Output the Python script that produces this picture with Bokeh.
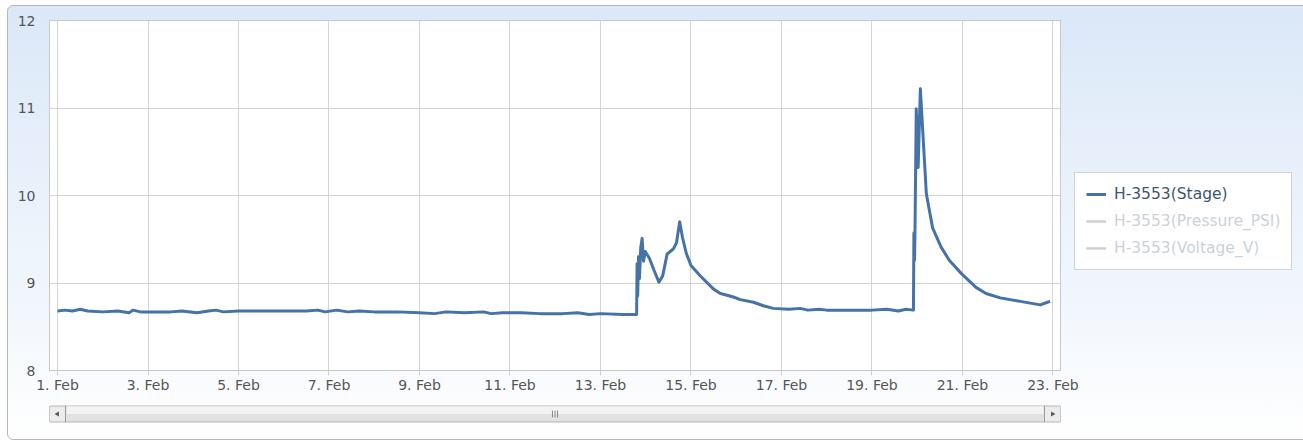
import pandas as pd
from bokeh.plotting import figure
from bokeh.models import (ColumnDataSource, Range1d, FixedTicker, Legend, LegendItem)
from bokeh.layouts import column
from bokeh.embed import file_html
from bokeh.resources import INLINE

# ---------------- data ----------------
series_names = ["H-3553(Stage)", "H-3553(Pressure_PSI)", "H-3553(Voltage_V)"]

times = [
    "2013-02-01 00:00", "2013-02-01 04:00", "2013-02-01 08:00", "2013-02-01 12:00", "2013-02-01 16:00",
    "2013-02-02 00:00", "2013-02-02 08:00", "2013-02-02 14:00", "2013-02-02 16:00", "2013-02-02 20:00",
    "2013-02-03 06:00", "2013-02-03 12:00", "2013-02-03 18:00", "2013-02-04 02:00", "2013-02-04 08:00",
    "2013-02-04 12:00", "2013-02-04 16:00", "2013-02-05 00:00", "2013-02-05 12:00", "2013-02-06 00:00",
    "2013-02-06 12:00", "2013-02-06 18:00", "2013-02-06 22:00", "2013-02-07 04:00", "2013-02-07 10:00",
    "2013-02-07 16:00", "2013-02-08 00:00", "2013-02-08 12:00", "2013-02-09 00:00", "2013-02-09 08:00",
    "2013-02-09 14:00", "2013-02-10 00:00", "2013-02-10 10:00", "2013-02-10 14:00", "2013-02-10 20:00",
    "2013-02-11 06:00", "2013-02-11 16:00", "2013-02-12 04:00", "2013-02-12 12:00", "2013-02-12 18:00",
    "2013-02-13 00:00", "2013-02-13 12:00", "2013-02-13 19:10",
    "2013-02-13 19:25", "2013-02-13 19:45", "2013-02-13 20:10", "2013-02-13 20:40", "2013-02-13 21:20",
    "2013-02-13 22:05", "2013-02-13 22:50", "2013-02-13 23:45", "2013-02-14 02:00", "2013-02-14 04:30",
    "2013-02-14 07:00", "2013-02-14 09:00", "2013-02-14 11:20", "2013-02-14 13:00", "2013-02-14 14:40",
    "2013-02-14 16:20", "2013-02-14 18:00", "2013-02-14 19:30", "2013-02-14 21:30", "2013-02-15 00:00",
    "2013-02-15 05:00", "2013-02-15 12:00", "2013-02-15 15:40", "2013-02-15 22:30", "2013-02-16 02:10",
    "2013-02-16 09:10", "2013-02-16 14:20", "2013-02-16 19:40", "2013-02-17 04:00", "2013-02-17 10:00",
    "2013-02-17 14:00", "2013-02-17 20:00", "2013-02-18 00:00", "2013-02-18 12:00", "2013-02-19 00:00",
    "2013-02-19 08:00", "2013-02-19 14:00", "2013-02-19 18:00", "2013-02-19 22:00",
    "2013-02-19 22:15", "2013-02-19 22:35", "2013-02-19 22:50", "2013-02-19 23:30", "2013-02-20 00:30",
    "2013-02-20 01:40", "2013-02-20 03:50", "2013-02-20 04:50", "2013-02-20 08:10", "2013-02-20 12:40",
    "2013-02-20 17:00", "2013-02-20 23:20", "2013-02-21 07:10", "2013-02-21 12:30", "2013-02-21 20:00",
    "2013-02-22 06:40", "2013-02-22 12:00", "2013-02-22 17:20", "2013-02-22 21:00", "2013-02-22 22:30",
]

stage = [
    8.68, 8.69, 8.68, 8.70, 8.68,
    8.67, 8.68, 8.66, 8.69, 8.67,
    8.67, 8.67, 8.68, 8.66, 8.68,
    8.69, 8.67, 8.68, 8.68, 8.68,
    8.68, 8.69, 8.67, 8.69, 8.67,
    8.68, 8.67, 8.67, 8.66, 8.65,
    8.67, 8.66, 8.67, 8.65, 8.66,
    8.66, 8.65, 8.65, 8.66, 8.64,
    8.65, 8.64, 8.64,
    9.22, 8.85, 9.30, 9.05, 9.40,
    9.51, 9.25, 9.36, 9.28, 9.14,
    9.01, 9.08, 9.33, 9.36, 9.39,
    9.46, 9.70, 9.52, 9.34, 9.20,
    9.08, 8.93, 8.88, 8.84, 8.81,
    8.78, 8.74, 8.71, 8.70, 8.71,
    8.69, 8.70, 8.69, 8.69, 8.69,
    8.70, 8.68, 8.70, 8.69,
    9.57, 9.26, 9.62, 10.99, 10.32,
    11.22, 10.40, 10.02, 9.63, 9.41,
    9.26, 9.11, 8.95, 8.88, 8.83,
    8.79, 8.77, 8.75, 8.78, 8.79,
]

y_ticks = [8, 9, 10, 11, 12]
x_tick_dates = ["2013-02-01", "2013-02-03", "2013-02-05", "2013-02-07", "2013-02-09", "2013-02-11",
                "2013-02-13", "2013-02-15", "2013-02-17", "2013-02-19", "2013-02-21", "2013-02-23"]
x_tick_labels = ["1. Feb", "3. Feb", "5. Feb", "7. Feb", "9. Feb", "11. Feb",
                 "13. Feb", "15. Feb", "17. Feb", "19. Feb", "21. Feb", "23. Feb"]

# ---------------- figure ----------------
def ms(s):
    return pd.Timestamp(s).value / 1e6

src = ColumnDataSource(dict(t=pd.to_datetime(times), v=stage))

x_start = ms("2013-01-31 19:45")
x_end = ms("2013-02-23 04:00")

FONT = "DejaVu Sans"
p = figure(x_axis_type="datetime", output_backend="svg", toolbar_location=None,
           frame_width=1011, frame_height=350,
           min_border_left=41, min_border_right=237, min_border_top=14, min_border_bottom=28,
           x_range=Range1d(x_start, x_end), y_range=Range1d(8, 12))
p.border_fill_color = None
p.background_fill_color = "white"
p.outline_line_color = "#c8c8c8"

tick_ms = [ms(d) for d in x_tick_dates]
p.xaxis.ticker = FixedTicker(ticks=tick_ms)
p.xaxis.major_label_overrides = {t: lab for t, lab in zip(tick_ms, x_tick_labels)}
p.xaxis.axis_line_color = "#c8c8c8"
p.xaxis.major_tick_line_color = "#d0d0d0"
p.xaxis.major_tick_in = 0
p.xaxis.major_tick_out = 5
p.xaxis.minor_tick_line_color = None
p.xaxis.major_label_standoff = 1
p.xaxis.major_label_text_font = FONT
p.xaxis.major_label_text_font_size = "14px"
p.xaxis.major_label_text_color = "#555555"

p.yaxis.ticker = FixedTicker(ticks=y_ticks)
p.yaxis.axis_line_color = None
p.yaxis.major_tick_line_color = None
p.yaxis.minor_tick_line_color = None
p.yaxis.major_label_standoff = 8
p.yaxis.major_label_text_font = FONT
p.yaxis.major_label_text_font_size = "14px"
p.yaxis.major_label_text_color = "#555555"

p.grid.grid_line_color = "#d4d4d4"
p.grid.grid_line_width = 1

r_stage = p.line("t", "v", source=src, line_color="#4572A7", line_width=3, line_join="round")

# hidden series (toggled off in the legend): a grey legend swatch plus a hidden renderer
nan = float("nan")
hidden_items = []
for name in series_names[1:]:
    swatch = p.line(x=[nan, nan], y=[nan, nan], line_color="#555555", line_width=2)
    hidden = p.line(x=[nan, nan], y=[nan, nan], line_color="#555555", line_width=2, visible=False)
    hidden_items.append(LegendItem(label=name, renderers=[swatch, hidden]))

legend = Legend(items=[LegendItem(label=series_names[0], renderers=[r_stage])] + hidden_items,
                location=(14, 100), click_policy="hide",
                label_text_font=FONT, label_text_font_size="15.5px", label_text_color="#3E576F",
                glyph_width=20, glyph_height=20, label_height=20, label_standoff=8,
                spacing=7, padding=11, margin=0,
                border_line_color="#a8a8a8", border_line_width=1,
                background_fill_color="white", background_fill_alpha=1,
                inactive_fill_color="white", inactive_fill_alpha=0.72)
p.add_layout(legend, "right")

# ---------------- scrollbar (navigator decoration) ----------------
sb = figure(output_backend="svg", toolbar_location=None,
            frame_width=1011, frame_height=17,
            min_border_left=41, min_border_right=237, min_border_top=7, min_border_bottom=17,
            x_range=Range1d(0, 1), y_range=Range1d(0, 1),
            x_axis_location=None, y_axis_location=None)
sb.border_fill_color = None
sb.background_fill_color = None
sb.outline_line_color = None
sb.grid.visible = False

btn = 16 / 1011
sb.quad(left=[btn], right=[1 - btn], bottom=[0.02], top=[0.98],
        fill_color="#e2e2e2", line_color="#9a9a9a", line_width=1)
sb.quad(left=[btn + 0.001], right=[1 - btn - 0.001], bottom=[0.5], top=[0.95],
        fill_color="#f3f3f3", line_color=None)
sb.quad(left=[0, 1 - btn], right=[btn, 1], bottom=[0.02, 0.02], top=[0.98, 0.98],
        fill_color="#ececec", line_color="#9a9a9a", line_width=1)
sb.scatter(x=[btn / 2, 1 - btn / 2], y=[0.5, 0.5], marker="triangle", size=5,
           angle=[1.5708, -1.5708], fill_color="#555555", line_color=None)
sb.segment(x0=[0.4975, 0.5, 0.5025], y0=[0.3] * 3, x1=[0.4975, 0.5, 0.5025], y1=[0.7] * 3,
           line_color="#888888", line_width=1)

layout = column(p, sb, styles={
    "background": "linear-gradient(to bottom, #dbe8f8 0%, #f4f8fd 75%, #ffffff 100%)",
    "border": "1px solid #b8b8b8",
    "border-radius": "6px",
    "margin": "5px 0 0 7px",
})

open("out.html", "w").write(file_html(layout, INLINE))
